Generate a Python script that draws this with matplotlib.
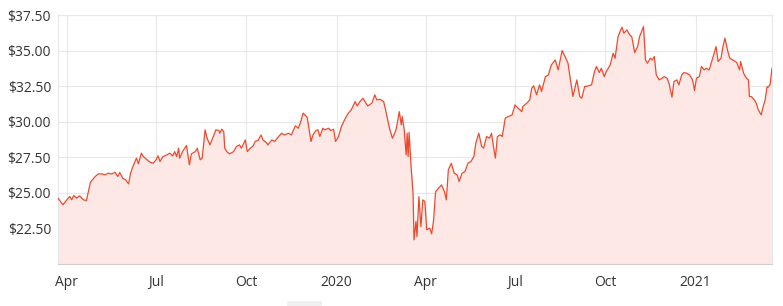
import matplotlib
matplotlib.use("Agg")
import matplotlib.pyplot as plt
import matplotlib.patches as mpatches
import pandas as pd
import numpy as np

# Series start date; observations given as day offsets from it
start_date = "2019-03-23"
day_offsets = [
    0, 5, 9, 12, 14, 16, 19, 22, 26, 29, 31, 33, 35, 38, 41, 45, 48, 51, 55, 58,
    61, 63, 66, 69, 72, 74, 77, 80, 82, 85, 87, 90, 94, 97, 100, 102, 104, 107, 111, 114,
    117, 119, 121, 123, 124, 127, 131, 134, 136, 140, 142, 145, 147, 150, 152, 155, 158, 161, 164, 165,
    167, 169, 170, 172, 175, 179, 182, 185, 187, 191, 193, 196, 199, 201, 204, 207, 209, 213,
    214, 218, 221, 225, 228, 231, 235, 238, 242, 245, 247, 250, 254, 255, 258, 260, 263, 265, 267, 270,
    272, 276, 278, 281, 283, 286, 289, 293, 296, 299, 303, 305, 308, 311, 314, 316, 320, 323, 325, 328,
    332, 334, 338, 341, 344, 345, 348, 350, 351, 353, 355, 356, 357, 358, 360, 362, 363, 365, 366, 368,
    370, 372, 374, 376, 379, 381, 383, 385, 388, 391, 394, 396, 398, 401, 404, 407, 409, 412, 415, 418,
    421, 424, 426, 429, 432, 434, 437, 440, 442, 444, 446, 448, 451, 453, 456, 459, 463, 466, 469, 473,
    474, 478,
    481, 483, 485, 488, 491, 493, 497, 500, 503, 507, 510, 514, 517, 520, 523, 525, 529, 532, 534, 537,
    541, 544, 547, 549, 552, 554, 557, 559, 563, 566, 568, 571, 575, 577, 580, 583, 585, 588, 591, 593,
    597, 599, 601, 604, 606, 608, 610, 613, 616, 618, 621, 623, 626, 628, 631, 633, 636, 638, 641, 644,
    647, 649, 651, 654, 656, 659, 661, 664, 667, 669, 671, 673, 676, 678, 680, 683, 685, 689, 692, 695,
    696, 699, 702, 704, 705, 707, 710, 712, 714, 717, 719, 721, 723, 724, 726, 728,
]
prices = [
    24.63, 24.16, 24.51, 24.74, 24.51, 24.81, 24.63, 24.79, 24.51, 24.46, 25.09, 25.73, 25.91, 26.15, 26.33, 26.33, 26.26, 26.38, 26.33, 26.45,
    26.15, 26.43, 26.03, 25.91, 25.63, 26.38, 26.97, 27.44, 27.04, 27.79, 27.55, 27.37, 27.15, 27.08, 27.32, 27.60, 27.20, 27.55, 27.67, 27.79,
    27.60, 27.90, 27.55, 28.14, 27.44, 27.90, 28.33, 26.97, 27.74, 27.90, 28.14, 27.32, 27.44, 29.43, 28.84, 28.37, 28.91, 29.43, 29.38, 29.19,
    29.47, 29.31, 28.14, 27.90, 27.74, 27.90, 28.26, 28.37, 28.14, 28.72, 27.90, 28.14, 28.30, 28.61, 28.68, 29.07, 28.72, 28.49,
    28.37, 28.72, 28.61, 28.96, 29.19, 29.07, 29.19, 29.07, 29.71, 29.54, 29.89, 30.60, 30.32, 29.89, 28.61, 29.07, 29.38, 29.43, 28.96, 29.54,
    29.43, 29.54, 29.38, 29.47, 28.61, 28.96, 29.66, 30.25, 30.60, 30.83, 31.42, 31.11, 31.42, 31.65, 31.30, 31.11, 31.30, 31.89, 31.53, 31.58,
    31.42, 30.83, 29.54, 28.84, 29.31, 29.54, 30.71, 29.78, 30.36, 29.43, 27.67, 29.19, 27.55, 29.24, 26.85, 24.98, 21.70, 22.99, 21.93, 24.74,
    22.63, 24.51, 24.39, 22.40, 22.52, 22.12, 23.10, 25.09, 25.33, 25.56, 25.09, 24.51, 26.62, 27.08, 26.38, 26.26, 25.80, 26.38, 26.50, 27.08,
    27.20, 27.55, 28.49, 29.19, 28.26, 28.14, 28.96, 28.84, 29.19, 28.26, 27.44, 28.96, 29.07, 28.96, 30.25, 30.36, 30.48, 31.18, 30.95, 30.71,
    31.07, 31.30,
    31.53, 32.35, 32.52, 31.89, 32.59, 32.12, 33.17, 33.29, 33.99, 34.34, 33.64, 35.00, 34.58, 34.11, 32.70, 31.77, 32.94, 31.77, 31.65, 32.47,
    32.52, 32.59, 33.52, 33.88, 33.45, 33.76, 33.17, 33.52, 33.99, 34.81, 34.46, 35.98, 36.64, 36.22, 36.45, 36.10, 35.98, 34.86, 35.28, 35.98,
    36.69, 34.34, 34.11, 34.46, 34.34, 34.58, 33.29, 32.94, 33.06, 33.17, 33.06, 32.70, 31.72, 32.82, 32.94, 32.59, 33.29, 33.45, 33.41, 33.29,
    32.94, 32.19, 33.06, 33.17, 33.88, 33.64, 33.76, 33.64, 34.34, 34.81, 35.28, 34.23, 34.46, 35.28, 35.87, 34.93, 34.46, 34.30, 34.16, 33.64,
    34.23, 33.41, 33.06, 32.94, 31.77, 31.77, 31.53, 31.30, 30.83, 30.48, 31.07, 31.53, 32.47, 32.42, 32.59, 33.76,
]

tick_dates = ["2019-04-01", "2019-07-01", "2019-10-01", "2020-01-01",
              "2020-04-01", "2020-07-01", "2020-10-01", "2021-01-01"]
tick_labels = ["Apr", "Jul", "Oct", "2020", "Apr", "Jul", "Oct", "2021"]
y_ticks = [22.5, 25.0, 27.5, 30.0, 32.5, 35.0, 37.5]

dates = pd.Timestamp(start_date) + pd.to_timedelta(day_offsets, unit="D")

plt.rcParams["font.family"] = ["Open Sans", "DejaVu Sans"]

fig = plt.figure(figsize=(7.83, 3.06), dpi=100)
ax = fig.add_axes([58 / 783, 1 - 264 / 306, (772 - 58) / 783, (264 - 15) / 306])

y_bottom = 20.0
line_color = "#ec4a2f"
ax.fill_between(dates, prices, y_bottom, color="#fde8e5", linewidth=0, zorder=1)
ax.plot(dates, prices, color=line_color, linewidth=0.9, zorder=3)

ax.set_xlim(dates[0], dates[-1])
ax.set_ylim(y_bottom, 37.5)
ax.set_yticks(y_ticks)
ax.set_yticklabels([f"${v:.2f}" for v in y_ticks])
ax.set_xticks(pd.to_datetime(tick_dates))
ax.set_xticklabels(tick_labels)

ax.grid(True, color="#e8e8e8", linewidth=0.8, zorder=0)
ax.set_axisbelow(True)
for side in ["top", "right", "left"]:
    ax.spines[side].set_color("#e8e8e8")
    ax.spines[side].set_linewidth(0.8)
ax.spines["bottom"].set_color("#cfcfcf")
ax.spines["bottom"].set_linewidth(0.8)

ax.tick_params(axis="both", length=0, labelsize=10, colors="#333333")
ax.tick_params(axis="x", pad=8)
ax.tick_params(axis="y", pad=5)

# small scrollbar-like artifact at bottom
fig.patches.append(mpatches.Rectangle((287 / 783, 0), 35 / 783, 5 / 306,
                                      transform=fig.transFigure, color="#f0f0f0",
                                      linewidth=0))

fig.savefig("out.png", dpi=100)
